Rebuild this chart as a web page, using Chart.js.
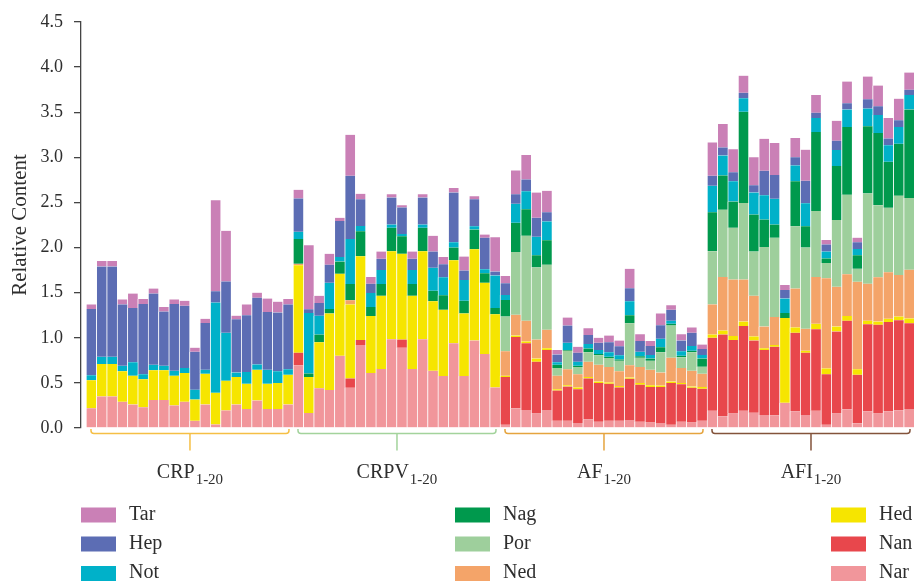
<!DOCTYPE html>
<html>
<head>
<meta charset="utf-8">
<script src="https://cdn.jsdelivr.net/npm/chart.js@4.4.1/dist/chart.umd.min.js"></script>
<style>
  html, body { margin: 0; padding: 0; background: #fff; }
  #wrap { width: 914px; height: 582px; }
</style>
</head>
<body>
<div id="wrap"><canvas id="chart1" width="914" height="582"></canvas></div>
<script>
// groups of 20 samples each
const groupNames = ['CRP', 'CRPV', 'AF', 'AFI'];
const groupSub = '1-20';
const groupColors = ['#F5BF45', '#A3D39C', '#E5A43F', '#83533B'];

// stacked from bottom to top: Nar, Nan, Hed, Ned, Por, Nag, Not, Hep, Tar
const nar = [
  0.22,0.35,0.35,0.29,0.26,0.23,0.31,0.31,0.25,0.29,0.08,0.26,0.04,0.195,0.26,0.21,0.305,0.21,0.21,0.26,
  0.695,0.165,0.44,0.42,0.80,0.445,0.92,0.61,0.655,0.985,0.89,0.655,0.985,0.635,0.575,0.94,0.575,0.97,0.82,0.45,
  0.035,0.22,0.2,0.16,0.2,0.08,0.08,0.055,0.095,0.07,0.08,0.08,0.09,0.07,0.06,0.055,0.035,0.07,0.06,0.08,
  0.19,0.13,0.16,0.19,0.17,0.145,0.14,0.28,0.185,0.145,0.19,0.035,0.16,0.205,0.05,0.185,0.16,0.185,0.195,0.21
];
const nan = [
  0,0,0,0,0,0,0,0,0,0,0,0,0,0,0,0,0,0,0,0,
  0.14,0,0,0,0,0.105,0.055,0,0,0,0.09,0,0,0,0,0,0,0,0,0,
  0.53,0.79,0.74,0.575,0.665,0.335,0.38,0.375,0.455,0.43,0.41,0.37,0.455,0.41,0.395,0.4,0.465,0.415,0.385,0.355,
  0.81,0.905,0.815,0.94,0.8,0.72,0.76,0,0.87,0.69,0.905,0.56,0.91,0.985,0.54,0.965,0.985,0.99,1.0,0.95
];
const hed = [
  0.31,0.36,0.36,0.34,0.32,0.31,0.33,0.33,0.33,0.32,0.235,0.34,0.35,0.33,0.305,0.28,0.34,0.28,0.29,0.33,
  0.97,0.40,0.51,0.85,0.91,0.82,0.93,0.63,0.81,0.975,0.95,0.81,0.975,0.77,0.735,0.92,0.695,1.01,0.79,0.81,
  0.015,0.015,0.02,0.035,0.02,0.015,0.015,0.02,0.015,0.015,0.015,0.015,0.015,0.02,0.02,0.015,0.015,0.015,0.015,0.02,
  0.035,0.045,0.045,0.05,0.045,0.02,0.02,0.94,0.06,0.02,0.06,0.065,0.055,0.05,0.06,0.04,0.035,0.035,0.04,0.055
];
const ned = [
  0,0,0,0,0,0,0,0,0,0,0,0,0,0,0,0,0,0,0,0,
  0.015,0,0,0,0,0.045,0,0,0,0,0,0,0,0,0,0,0,0,0,0,
  0.27,0.23,0.23,0.21,0.205,0.15,0.175,0.145,0.17,0.185,0.17,0.165,0.135,0.175,0.17,0.145,0.265,0.165,0.175,0.145,
  0.335,0.595,0.625,0.465,0.45,0.24,0.31,0,0.43,0.245,0.52,1.0,0.44,0.465,0.97,0.41,0.49,0.515,0.46,0.54
];
const por = [
  0,0,0,0,0,0,0,0,0,0,0,0,0,0,0,0,0,0,0,0,
  0,0,0,0,0,0,0,0,0,0,0,0,0,0,0,0,0,0,0,0,
  0.385,0.695,0.94,0.80,0.72,0.085,0.205,0.08,0.105,0.105,0.10,0.115,0.465,0.105,0.1,0.225,0.355,0.12,0.205,0.08,
  0.59,0.745,0.575,0.85,0.49,0.88,0.88,0,0.69,0.9,0.73,0.17,0.74,0.88,0.145,1.0,0.8,0.715,0.88,0.795
];
const nag = [
  0,0,0,0,0,0,0,0,0,0,0,0,0,0,0,0,0,0,0,0,
  0.275,0.04,0.085,0.05,0.135,0.18,0.275,0.10,0.13,0.26,0.195,0.13,0.26,0.115,0.16,0.14,0.14,0.22,0.105,0.07,
  0.185,0.325,0.295,0.135,0.27,0.035,0.01,0.015,0.04,0.015,0.015,0.015,0.09,0.015,0.025,0.055,0.02,0.015,0.015,0.09,
  0.43,0.38,0.29,1.01,0.41,0.305,0.145,0.055,0.5,0.235,0.875,0.05,0.6,0.75,0.15,0.745,0.8,0.51,0.575,0.98
];
const not = [
  0.055,0.08,0.08,0.06,0.15,0.055,0.06,0.05,0.055,0.055,0.11,0.045,1.0,0.53,0.05,0.13,0.06,0.155,0.13,0.06,
  0.08,0.67,0.21,0.29,0.05,0.50,0.06,0.155,0.155,0.035,0.025,0.155,0.035,0.255,0.2,0.06,0.23,0.035,0.045,0.36,
  0.055,0.21,0.2,0.205,0.21,0.03,0.08,0.045,0.05,0.045,0.05,0.045,0.155,0.05,0.04,0.095,0.035,0.05,0.055,0.04,
  0.295,0.22,0.225,0.15,0.245,0.27,0.285,0.16,0.175,0.255,0.155,0.075,0.175,0.195,0.07,0.195,0.2,0.185,0.185,0.16
];
const hep = [
  0.735,1.0,1.0,0.68,0.60,0.78,0.79,0.60,0.74,0.69,0.42,0.52,0.125,0.57,0.59,0.63,0.74,0.64,0.65,0.72,
  0.37,0.04,0.14,0.2,0.40,0.70,0.295,0.105,0.125,0.30,0.295,0.125,0.30,0.18,0.145,0.55,0.105,0.30,0.35,0.045,
  0.13,0.105,0.13,0.21,0.10,0.085,0.19,0.1,0.1,0.08,0.11,0.1,0.145,0.12,0.1,0.15,0.12,0.12,0.145,0.065,
  0.11,0.09,0.1,0.06,0.08,0.27,0.265,0.095,0.09,0.25,0.06,0.08,0.105,0.07,0.075,0.105,0.095,0.075,0.075,0.06
];
const tar = [
  0.05,0.06,0.06,0.055,0.16,0.055,0.055,0.05,0.05,0.055,0.045,0.045,1.01,0.56,0.04,0.12,0.055,0.15,0.12,0.06,
  0.095,0.71,0.08,0.12,0.035,0.455,0.06,0.075,0.08,0.035,0.025,0.08,0.035,0.175,0.08,0.05,0.155,0.035,0.035,0.38,
  0.08,0.265,0.27,0.28,0.24,0.05,0.09,0.065,0.075,0.055,0.075,0.065,0.215,0.075,0.055,0.13,0.05,0.07,0.06,0.05,
  0.37,0.26,0.255,0.19,0.31,0.355,0.355,0.055,0.215,0.345,0.195,0.05,0.22,0.24,0.05,0.25,0.23,0.225,0.24,0.19
];

const seriesNames = ['Nar', 'Nan', 'Hed', 'Ned', 'Por', 'Nag', 'Not', 'Hep', 'Tar'];
const seriesData = [nar, nan, hed, ned, por, nag, not, hep, tar];
const seriesColors = ['#F1969B', '#E8474C', '#F6E500', '#F4A469', '#9ECF9C', '#00994D', '#00B1C9', '#5C6DB4', '#CA80B6'];
// legend columns, top to bottom
const legendCols = [['Tar', 'Hep', 'Not'], ['Nag', 'Por', 'Ned'], ['Hed', 'Nan', 'Nar']];

const FONT = '"Liberation Serif", "DejaVu Serif", serif';
const TEXT = '#2e2e2e';

let datasets = seriesNames.map((name, k) => ({
  label: name,
  data: seriesData[k].map((v, i) => ({ x: i, y: v })),
  backgroundColor: seriesColors[k],
  borderColor: 'rgba(255,255,255,0.6)',
  borderWidth: { left: 1, right: 0, top: 0, bottom: 0 },
  borderSkipped: false,
  barPercentage: 1,
  categoryPercentage: 1
}));

// brackets, group names and the legend under the plot
const extras = {
  id: 'extras',
  afterDraw(chart) {
    const ctx = chart.ctx;
    const xs = chart.scales.x;
    ctx.save();
    groupNames.forEach((g, gi) => {
      let x1 = xs.getPixelForValue(gi * 20 - 0.5) + 5;
      let x2 = xs.getPixelForValue(gi * 20 + 19.5) - 4;
      let cx = (x1 + x2) / 2;
      let y = 433.5, top = 429, r = 3;
      ctx.strokeStyle = groupColors[gi];
      ctx.lineWidth = 1.5;
      ctx.beginPath();
      ctx.moveTo(x1, top);
      ctx.lineTo(x1, y - r);
      ctx.quadraticCurveTo(x1, y, x1 + r, y);
      ctx.lineTo(x2 - r, y);
      ctx.quadraticCurveTo(x2, y, x2, y - r);
      ctx.lineTo(x2, top);
      ctx.moveTo(cx, y);
      ctx.lineTo(cx, 450.5);
      ctx.stroke();

      ctx.fillStyle = TEXT;
      ctx.textBaseline = 'alphabetic';
      ctx.textAlign = 'left';
      ctx.font = '20px ' + FONT;
      let w1 = ctx.measureText(g).width;
      ctx.font = '15px ' + FONT;
      let w2 = ctx.measureText(groupSub).width;
      let sx = cx - (w1 + 1 + w2) / 2;
      ctx.font = '20px ' + FONT;
      ctx.fillText(g, sx, 478);
      ctx.font = '15px ' + FONT;
      ctx.fillText(groupSub, sx + w1 + 1, 483.5);
    });

    let colX = [81, 455, 831];
    let rowY = [507.5, 536.5, 566];
    ctx.font = '20px ' + FONT;
    legendCols.forEach((col, c) => {
      col.forEach((name, r) => {
        let k = seriesNames.indexOf(name);
        ctx.fillStyle = seriesColors[k];
        ctx.fillRect(colX[c], rowY[r], 35, 15);
        ctx.fillStyle = TEXT;
        ctx.fillText(name, colX[c] + 48, rowY[r] + 12);
      });
    });
    ctx.restore();
  }
};

new Chart(document.getElementById('chart1').getContext('2d'), {
  type: 'bar',
  data: { datasets: datasets },
  options: {
    responsive: false,
    animation: false,
    devicePixelRatio: 1,
    layout: { padding: { top: 22, bottom: 154, left: 0, right: 0 } },
    plugins: {
      legend: { display: false },
      tooltip: { enabled: false }
    },
    scales: {
      x: {
        type: 'linear',
        display: false,
        stacked: true,
        offset: false,
        min: -0.98,
        max: 79.5,
        afterBuildTicks: (s) => { s.ticks = []; }
      },
      y: {
        stacked: true,
        min: 0,
        max: 4.5,
        afterFit: (s) => { s.width = 81; },
        ticks: {
          stepSize: 0.5,
          padding: 11,
          color: TEXT,
          font: { family: FONT, size: 18 },
          callback: (v) => v.toFixed(1)
        },
        grid: { drawOnChartArea: false, drawTicks: true, tickLength: 7, color: '#444', lineWidth: 1.3 },
        border: { display: true, color: '#444', width: 1.3 },
        title: {
          display: true,
          text: 'Relative Content',
          color: TEXT,
          font: { family: FONT, size: 21 },
          padding: { top: 8, bottom: 0 }
        }
      }
    }
  },
  plugins: [extras]
});
</script>
</body>
</html>
